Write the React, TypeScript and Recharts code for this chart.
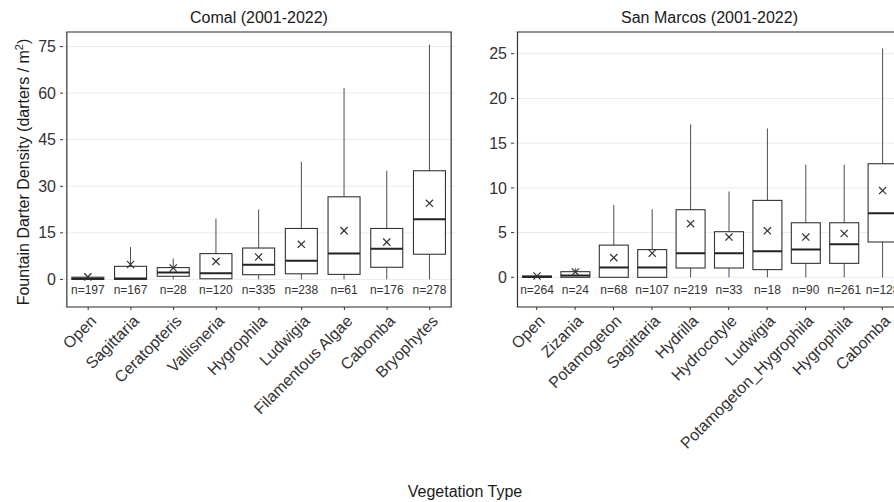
import { ComposedChart, Bar, XAxis, YAxis, CartesianGrid, ReferenceArea } from 'recharts';

const FONT = '"Liberation Sans", Arial, sans-serif';

// Comal (2001-2022)
const comalTypes = ['Open', 'Sagittaria', 'Ceratopteris', 'Vallisneria', 'Hygrophila', 'Ludwigia', 'Filamentous Algae', 'Cabomba', 'Bryophytes'];
const comalMin = [0, 0, 0, 0, 0, 0, 0, 0, 0];
const comalQ1 = [0, 0, 1.0, 0.2, 1.5, 1.8, 1.6, 3.9, 8.1];
const comalMedian = [0.2, 0.3, 2.2, 2.0, 4.7, 6.0, 8.3, 9.9, 19.4];
const comalQ3 = [0.7, 4.2, 3.8, 8.3, 10.1, 16.4, 26.6, 16.4, 35.0];
const comalMax = [0.9, 10.4, 6.7, 19.6, 22.5, 37.9, 61.6, 35.0, 75.6];
const comalMean = [0.8, 4.8, 3.65, 5.8, 7.2, 11.3, 15.7, 12.0, 24.5];
const comalN = [197, 167, 28, 120, 335, 238, 61, 176, 278];
const comalTicks = [0, 15, 30, 45, 60, 75];

// San Marcos (2001-2022)
const smTypes = ['Open', 'Zizania', 'Potamogeton', 'Sagittaria', 'Hydrilla', 'Hydrocotyle', 'Ludwigia', 'Potamogeton_Hygrophila', 'Hygrophila', 'Cabomba'];
const smMin = [0, 0, 0, 0, 0, 0, 0, 0, 0, 0];
const smQ1 = [0, 0, 0, 0, 1.04, 1.04, 0.86, 1.56, 1.56, 3.95];
const smMedian = [0.05, 0.2, 1.1, 1.1, 2.7, 2.7, 2.9, 3.1, 3.7, 7.15];
const smQ3 = [0.15, 0.63, 3.6, 3.1, 7.56, 5.1, 8.6, 6.1, 6.1, 12.7];
const smMax = [0.2, 1.0, 8.1, 7.6, 17.1, 9.6, 16.65, 12.6, 12.6, 25.6];
const smMean = [0.15, 0.6, 2.2, 2.7, 6.0, 4.5, 5.2, 4.5, 4.9, 9.7];
const smN = [264, 24, 68, 107, 219, 33, 18, 90, 261, 128];
const smTicks = [0, 5, 10, 15, 20, 25];

function buildRows(types: string[], mins: number[], q1s: number[], meds: number[], q3s: number[], maxs: number[], means: number[], ns: number[]) {
  return types.map((name, i) => ({
    name,
    min: mins[i],
    q1: q1s[i],
    median: meds[i],
    q3: q3s[i],
    max: maxs[i],
    mean: means[i],
    n: ns[i],
  }));
}

const comalRows = buildRows(comalTypes, comalMin, comalQ1, comalMedian, comalQ3, comalMax, comalMean, comalN);
const smRows = buildRows(smTypes, smMin, smQ1, smMedian, smQ3, smMax, smMean, smN);

// draws whiskers, box, median, mean and n label; y/height come from the [min, max] range bar
function BoxShape(props: any) {
  const { x, y, width, height, payload, labelY } = props;
  const d = payload;
  const pix = (v: number) => y + (height * (d.max - v)) / (d.max - d.min);
  const cx = x + width / 2;
  const top = pix(d.q3);
  const bot = pix(d.q1);
  const my = pix(d.mean);
  const s = 3.6;
  return (
    <g>
      <line x1={cx} x2={cx} y1={pix(d.max)} y2={top} stroke="#4d4d4d" strokeWidth={1} />
      <line x1={cx} x2={cx} y1={bot} y2={pix(d.min)} stroke="#4d4d4d" strokeWidth={1} />
      <rect x={x} y={top} width={width} height={Math.max(bot - top, 0.5)} fill="#fff" stroke="#333" strokeWidth={1.1} />
      <line x1={x} x2={x + width} y1={pix(d.median)} y2={pix(d.median)} stroke="#222" strokeWidth={2} />
      <line x1={cx - s} x2={cx + s} y1={my - s} y2={my + s} stroke="#333" strokeWidth={1.2} />
      <line x1={cx - s} x2={cx + s} y1={my + s} y2={my - s} stroke="#333" strokeWidth={1.2} />
      <text x={cx} y={pix(labelY)} dy="0.35em" textAnchor="middle" fontSize={12} fill="#333" fontFamily={FONT}>
        n={d.n}
      </text>
    </g>
  );
}

function AngledTick(props: any) {
  const { x, y, payload } = props;
  return (
    <g transform={`translate(${x},${y})`}>
      <text transform="rotate(-45)" textAnchor="end" dy="0.8em" fontSize={16} fill="#333" fontFamily={FONT}>
        {payload.value}
      </text>
    </g>
  );
}

function Panel({ rows, ticks, domain, labelY, yWidth, margin, barSize, plotWidth }: any) {
  const pad = (plotWidth * 0.1) / (rows.length + 1.2);
  return (
    <ComposedChart width={460} height={470} data={rows} margin={margin}>
      <CartesianGrid vertical={false} stroke="#ebebeb" strokeWidth={1} />
      <XAxis
        dataKey="name"
        type="category"
        interval={0}
        axisLine={false}
        tickLine={{ stroke: '#333' }}
        tickSize={3}
        tickMargin={3}
        height={150}
        padding={{ left: pad, right: pad }}
        tick={<AngledTick />}
      />
      <YAxis
        type="number"
        domain={domain}
        ticks={ticks}
        allowDataOverflow
        width={yWidth}
        axisLine={false}
        tickLine={{ stroke: '#333' }}
        tickSize={3}
        tickMargin={4}
        tick={{ fontSize: 16, fill: '#333', fontFamily: FONT }}
      />
      <Bar
        dataKey={(d: any) => [d.min, d.max]}
        barSize={barSize}
        isAnimationActive={false}
        shape={(p: any) => <BoxShape {...p} labelY={labelY} />}
      />
      <ReferenceArea y1={domain[0]} y2={domain[1]} fill="none" stroke="#333" strokeWidth={1.2} ifOverflow="visible" />
    </ComposedChart>
  );
}

export default function App() {
  return (
    <div style={{ position: 'absolute', left: 0, top: 0, width: 894, height: 502, overflow: 'hidden', background: '#fff', fontFamily: FONT }}>
      <div style={{ position: 'absolute', left: 0, top: 0 }}>
        <Panel
          rows={comalRows}
          ticks={comalTicks}
          domain={[-8.9, 79.7]}
          labelY={-3.2}
          yWidth={50}
          margin={{ top: 32, right: 5, bottom: 13, left: 13 }}
          barSize={32}
          plotWidth={392}
        />
      </div>
      <div style={{ position: 'absolute', left: 460, top: 0 }}>
        <Panel
          rows={smRows}
          ticks={smTicks}
          domain={[-3.32, 27.43]}
          labelY={-1.35}
          yWidth={45}
          margin={{ top: 32, right: 15, bottom: 13, left: 9 }}
          barSize={29}
          plotWidth={391}
        />
      </div>
      <svg width={894} height={502} style={{ position: 'absolute', left: 0, top: 0, pointerEvents: 'none' }}>
        <text x={259} y={22.5} textAnchor="middle" fontSize={16} fill="#1a1a1a" fontFamily={FONT}>Comal (2001-2022)</text>
        <text x={709.5} y={22.5} textAnchor="middle" fontSize={16} fill="#1a1a1a" fontFamily={FONT}>San Marcos (2001-2022)</text>
        <text transform="translate(29,172) rotate(-90)" textAnchor="middle" fontSize={16} fill="#1a1a1a" fontFamily={FONT}>
          Fountain Darter Density (darters / m<tspan dy="-6" fontSize={11}>2</tspan><tspan dy="6">)</tspan>
        </text>
        <text x={465} y={497} textAnchor="middle" fontSize={16} fill="#1a1a1a" fontFamily={FONT}>Vegetation Type</text>
      </svg>
    </div>
  );
}
